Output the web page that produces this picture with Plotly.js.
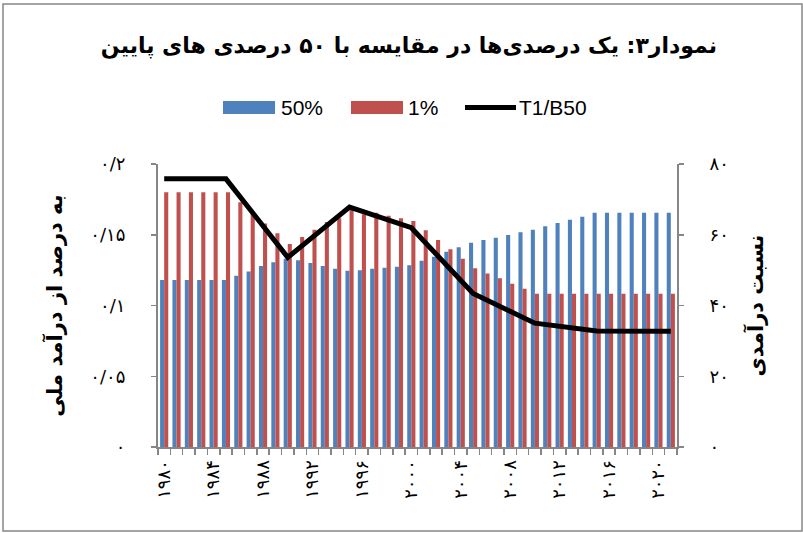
<!DOCTYPE html>
<html><head><meta charset="utf-8">
<script src="https://cdn.plot.ly/plotly-3.0.1.min.js"></script>
<style>html,body{margin:0;padding:0;background:#fff}#chart{width:803px;height:533px}</style>
</head><body><div id="chart"></div>
<script>
const years = ['1980','1981','1982','1983','1984','1985','1986','1987','1988','1989',
  '1990','1991','1992','1993','1994','1995','1996','1997','1998','1999',
  '2000','2001','2002','2003','2004','2005','2006','2007','2008','2009',
  '2010','2011','2012','2013','2014','2015','2016','2017','2018','2019','2020','2021'];
const xLabelYears = ['1980','1984','1988','1992','1996','2000','2004','2008','2012','2016','2020'];
const xLabelText = ['۱۹۸۰','۱۹۸۴','۱۹۸۸','۱۹۹۲','۱۹۹۶','۲۰۰۰','۲۰۰۴','۲۰۰۸','۲۰۱۲','۲۰۱۶','۲۰۲۰'];
const bottom50 = [0.118,0.118,0.118,0.118,0.118,0.118,0.121,0.124,0.128,0.1305,
  0.133,0.132,0.130,0.128,0.126,0.1245,0.125,0.126,0.1267,0.1274,
  0.1284,0.1317,0.1345,0.138,0.1411,0.1444,0.1463,0.1479,0.1498,0.1517,
  0.1536,0.156,0.1583,0.1606,0.1628,0.1656,0.1656,0.1656,0.1656,0.1656,0.1656,0.1656];
const top1 = [0.180,0.180,0.180,0.180,0.180,0.180,0.173,0.165,0.158,0.151,
  0.1435,0.1484,0.1536,0.159,0.1616,0.1675,0.1645,0.1656,0.1635,0.1616,
  0.1597,0.1531,0.1463,0.1397,0.1331,0.1263,0.1227,0.1192,0.1154,0.1119,
  0.1083,0.1083,0.1083,0.1083,0.1083,0.1083,0.1083,0.1083,0.1083,0.1083,0.1083,0.1083];
const ratioYears = ['1980','1985','1990','1995','2000','2005','2010','2015','2021'];
const ratioT1B50 = [75.8,75.8,53.6,67.8,62.0,43.4,35.0,32.8,32.7];
const leftTickVals = [0,0.05,0.1,0.15,0.2];
const leftTickText = ['۰','۰/۰۵','۰/۱','۰/۱۵','۰/۲'];
const rightTickVals = [0,20,40,60,80];
const rightTickText = ['۰','۲۰','۴۰','۶۰','۸۰'];
const seriesNames = ['50%','1%','T1/B50'];
const titleText = 'نمودار۳: یک درصدی‌ها در مقایسه با ۵۰ درصدی های پایین';
const leftTitle = 'به درصد از درآمد ملی';
const rightTitle = 'نسبت درآمدی';

const BLUE = '#4F81BD', RED = '#C0504D', GREY = '#868686';
const W = 803, H = 533, L = 158, R = 677, T = 164, B = 447;
const px = x => (x - L) / (R - L);
const py = y => (B - y) / (B - T);

const xTickText = years.map(y => { const i = xLabelYears.indexOf(y); return i >= 0 ? xLabelText[i] : ''; });
const fa = 'DejaVu Sans, sans-serif';

const traces = [
  {type:'bar', name:seriesNames[0], x:years, y:bottom50, marker:{color:BLUE}, showlegend:false, hoverinfo:'x+y'},
  {type:'bar', name:seriesNames[1], x:years, y:top1, marker:{color:RED}, showlegend:false, hoverinfo:'x+y'},
  {type:'scatter', mode:'lines', name:seriesNames[2], x:ratioYears, y:ratioT1B50, yaxis:'y2',
   line:{color:'#000', width:5}, showlegend:false}
];

const shapes = [
  {type:'rect', xref:'paper', yref:'paper', x0:px(3), x1:px(802), y0:py(531), y1:py(4), line:{color:GREY, width:1.5}},
  {type:'rect', xref:'paper', yref:'paper', x0:px(223), x1:px(275), y0:py(114), y1:py(101), fillcolor:BLUE, line:{width:0}},
  {type:'rect', xref:'paper', yref:'paper', x0:px(351), x1:px(403), y0:py(114), y1:py(101), fillcolor:RED, line:{width:0}},
  {type:'line', xref:'paper', yref:'paper', x0:px(465), x1:px(516), y0:py(107.5), y1:py(107.5), line:{color:'#000', width:5}}
];
const legFont = {family:'Liberation Sans, Arial, sans-serif', size:21, color:'#000'};
const annotations = [
  {xref:'paper', yref:'paper', x:px(279), y:py(107.5), xanchor:'left', yanchor:'middle', text:seriesNames[0], showarrow:false, font:legFont},
  {xref:'paper', yref:'paper', x:px(406), y:py(107.5), xanchor:'left', yanchor:'middle', text:seriesNames[1], showarrow:false, font:legFont},
  {xref:'paper', yref:'paper', x:px(517), y:py(107.5), xanchor:'left', yanchor:'middle', text:seriesNames[2], showarrow:false, font:legFont}
];

const layout = {
  width:W, height:H, paper_bgcolor:'#fff', plot_bgcolor:'#fff',
  margin:{l:L, r:W-R, t:T, b:H-B, pad:0},
  title:{text:titleText, font:{family:fa, size:22, color:'#000', weight:'bold'}, x:409/W, xanchor:'center', y:1-45/H, yanchor:'middle', xref:'container', yref:'container'},
  barmode:'group', bargap:0.34, bargroupgap:0,
  showlegend:false,
  xaxis:{type:'category', categoryorder:'array', categoryarray:years, tickmode:'array', tickvals:years, ticktext:xTickText,
    tickson:'boundaries', ticks:'outside', ticklen:6, tickwidth:1.5, tickcolor:GREY, showline:true, linecolor:GREY, linewidth:2,
    tickangle:-90, tickfont:{family:fa, size:18, color:'#000'}, showgrid:false, zeroline:false, ticklabelstandoff:4},
  yaxis:{range:[0,0.2], tickmode:'array', tickvals:leftTickVals, ticktext:leftTickText, ticks:'outside', ticklen:5, tickwidth:1.5,
    tickcolor:GREY, showline:true, linecolor:GREY, linewidth:2, showgrid:false, zeroline:false,
    tickfont:{family:fa, size:18, color:'#000'}, ticklabelstandoff:22,
    title:{text:leftTitle, font:{family:fa, size:21, color:'#000', weight:'bold'}, standoff:22}},
  yaxis2:{range:[0,80], overlaying:'y', side:'right', tickmode:'array', tickvals:rightTickVals, ticktext:rightTickText, ticks:'outside', ticklen:5, tickwidth:1.5,
    tickcolor:GREY, showline:true, linecolor:GREY, linewidth:2, showgrid:false, zeroline:false,
    tickfont:{family:fa, size:18, color:'#000'}, ticklabelstandoff:22,
    title:{text:rightTitle, font:{family:fa, size:21, color:'#000', weight:'bold'}, standoff:20}},
  shapes:shapes, annotations:annotations
};
Plotly.newPlot('chart', traces, layout, {displayModeBar:false, staticPlot:true});
</script></body></html>
